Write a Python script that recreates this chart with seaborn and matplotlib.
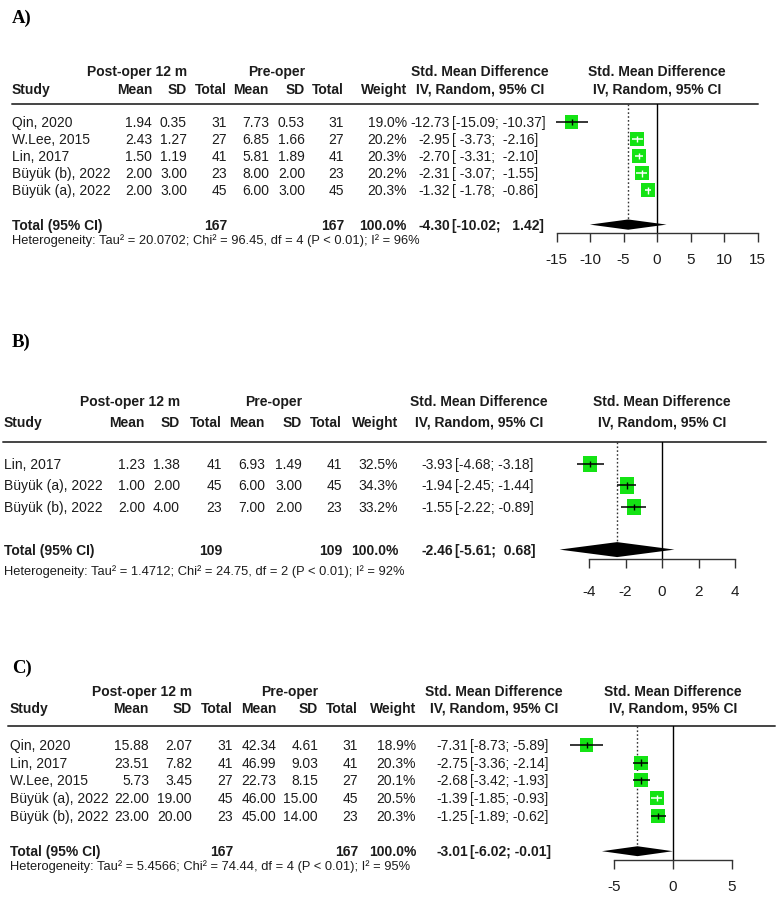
import numpy as np
import pandas as pd
import matplotlib
matplotlib.use("Agg")
import matplotlib.pyplot as plt
import seaborn as sns

sns.set_theme(style="white")
plt.rcParams['font.family'] = ['Liberation Sans', 'DejaVu Sans']
plt.rcParams['axes.unicode_minus'] = False

# ---------------- data ----------------
# Panel A
studies_a = ["Qin, 2020", "W.Lee, 2015", "Lin, 2017", "Büyük (b), 2022", "Büyük (a), 2022"]
post_mean_a = [1.94, 2.43, 1.50, 2.00, 2.00]
post_sd_a = [0.35, 1.27, 1.19, 3.00, 3.00]
post_n_a = [31, 27, 41, 23, 45]
pre_mean_a = [7.73, 6.85, 5.81, 8.00, 6.00]
pre_sd_a = [0.53, 1.66, 1.89, 2.00, 3.00]
pre_n_a = [31, 27, 41, 23, 45]
weight_a = [19.0, 20.2, 20.3, 20.2, 20.3]
smd_a = [-12.73, -2.95, -2.70, -2.31, -1.32]
lo_a = [-15.09, -3.73, -3.31, -3.07, -1.78]
hi_a = [-10.37, -2.16, -2.10, -1.55, -0.86]
pooled_a = [-4.30, -10.02, 1.42]
total_weight_a = 100.0
het_a = [20.0702, 96.45, 4, "P < 0.01", 96]
ticks_a = [-15, -10, -5, 0, 5, 10, 15]

# Panel B
studies_b = ["Lin, 2017", "Büyük (a), 2022", "Büyük (b), 2022"]
post_mean_b = [1.23, 1.00, 2.00]
post_sd_b = [1.38, 2.00, 4.00]
post_n_b = [41, 45, 23]
pre_mean_b = [6.93, 6.00, 7.00]
pre_sd_b = [1.49, 3.00, 2.00]
pre_n_b = [41, 45, 23]
weight_b = [32.5, 34.3, 33.2]
smd_b = [-3.93, -1.94, -1.55]
lo_b = [-4.68, -2.45, -2.22]
hi_b = [-3.18, -1.44, -0.89]
pooled_b = [-2.46, -5.61, 0.68]
total_weight_b = 100.0
het_b = [1.4712, 24.75, 2, "P < 0.01", 92]
ticks_b = [-4, -2, 0, 2, 4]

# Panel C
studies_c = ["Qin, 2020", "Lin, 2017", "W.Lee, 2015", "Büyük (a), 2022", "Büyük (b), 2022"]
post_mean_c = [15.88, 23.51, 5.73, 22.00, 23.00]
post_sd_c = [2.07, 7.82, 3.45, 19.00, 20.00]
post_n_c = [31, 41, 27, 45, 23]
pre_mean_c = [42.34, 46.99, 22.73, 46.00, 45.00]
pre_sd_c = [4.61, 9.03, 8.15, 15.00, 14.00]
pre_n_c = [31, 41, 27, 45, 23]
weight_c = [18.9, 20.3, 20.1, 20.5, 20.3]
smd_c = [-7.31, -2.75, -2.68, -1.39, -1.25]
lo_c = [-8.73, -3.36, -3.42, -1.85, -1.89]
hi_c = [-5.89, -2.14, -1.93, -0.93, -0.62]
pooled_c = [-3.01, -6.02, -0.01]
total_weight_c = 100.0
het_c = [5.4566, 74.44, 4, "P < 0.01", 95]
ticks_c = [-5, 0, 5]

group1_label = "Post-oper 12 m"
group2_label = "Pre-oper"
panel_labels = ["A)", "B)", "C)"]

# ---------------- layout (pixels) ----------------
W, H = 781, 904
TXT = "#1c1c1c"
GREEN = "#14e314"
FS = 10

layouts = [
    dict(label_y=18, h1=72, h2=90, line_y=105, line_x=(12, 758), row0=123, sp=17.1,
         het_y=241, axis_y=234, ticklab_y=260, study=12, m1=152, s1=187, n1=227,
         m2=269, s2=305, n2=344, w=407, est=450, ci=452, smd_hdr=480,
         zero_px=657, ppu=6.7, ax_px=(540, 776), dia_h=0.30, side=14, aspect=1.0),
    dict(label_y=342, h1=402, h2=423, line_y=443, line_x=(3, 766), row0=465, sp=21.4,
         het_y=572, axis_y=560, ticklab_y=593, study=4, m1=145, s1=180, n1=222,
         m2=265, s2=302, n2=342, w=398, est=453, ci=455, smd_hdr=479,
         zero_px=662, ppu=18.25, ax_px=(520, 776), dia_h=0.35, side=14, aspect=1.2),
    dict(label_y=668, h1=692, h2=709, line_y=727, line_x=(8, 775), row0=746, sp=17.7,
         het_y=867, axis_y=861, ticklab_y=888, study=10, m1=149, s1=192, n1=233,
         m2=276, s2=318, n2=358, w=416, est=468, ci=470, smd_hdr=494,
         zero_px=673, ppu=11.8, ax_px=(560, 778), dia_h=0.28, side=14, aspect=1.0),
]

panels = [
    (studies_a, post_mean_a, post_sd_a, post_n_a, pre_mean_a, pre_sd_a, pre_n_a,
     weight_a, smd_a, lo_a, hi_a, pooled_a, total_weight_a, het_a, ticks_a),
    (studies_b, post_mean_b, post_sd_b, post_n_b, pre_mean_b, pre_sd_b, pre_n_b,
     weight_b, smd_b, lo_b, hi_b, pooled_b, total_weight_b, het_b, ticks_b),
    (studies_c, post_mean_c, post_sd_c, post_n_c, pre_mean_c, pre_sd_c, pre_n_c,
     weight_c, smd_c, lo_c, hi_c, pooled_c, total_weight_c, het_c, ticks_c),
]

fig = plt.figure(figsize=(W / 100, H / 100), dpi=100)
fig.patch.set_facecolor("white")
tab = fig.add_axes([0, 0, 1, 1])
tab.set_xlim(0, W)
tab.set_ylim(H, 0)
tab.axis("off")


def t(x, y, s, ha="right", bold=False, size=FS, **kw):
    tab.text(x, y, s, ha=ha, va="center", fontsize=size, color=TXT,
             fontweight="bold" if bold else "normal", **kw)


def ci_strings(lo, hi):
    sl = [f"{v:.2f}" for v in lo]
    sh = [f"{v:.2f}" for v in hi]
    wl = max(len(s) for s in sl)
    wh = max(len(s) for s in sh)
    return [f"[{a:>{wl}}; {b:>{wh}}]" for a, b in zip(sl, sh)]


for pi, (L, P) in enumerate(zip(layouts, panels)):
    (studies, m1, s1, n1, m2, s2, n2, wts, smd, lo, hi, pooled, tw, het, ticks) = P
    n = len(studies)

    # panel label
    tab.text(12, L["label_y"], panel_labels[pi], ha="left", va="center",
             fontsize=13.5, fontweight="bold", color="black",
             family=["Liberation Serif", "DejaVu Serif"])

    # headers
    t(L["s1"], L["h1"], group1_label, bold=True)
    t(L["s2"], L["h1"], group2_label, bold=True)
    t(L["smd_hdr"], L["h1"], "Std. Mean Difference", ha="center", bold=True)
    t(L["zero_px"], L["h1"], "Std. Mean Difference", ha="center", bold=True)
    t(L["study"], L["h2"], "Study", ha="left", bold=True)
    for key, lab in [("m1", "Mean"), ("s1", "SD"), ("n1", "Total"),
                     ("m2", "Mean"), ("s2", "SD"), ("n2", "Total"), ("w", "Weight")]:
        t(L[key], L["h2"], lab, bold=True)
    t(L["smd_hdr"], L["h2"], "IV, Random, 95% CI", ha="center", bold=True)
    t(L["zero_px"], L["h2"], "IV, Random, 95% CI", ha="center", bold=True)
    tab.plot(L["line_x"], [L["line_y"], L["line_y"]], color="#444444", lw=1.4)

    cis = ci_strings(lo + [pooled[1]], hi + [pooled[2]])
    rows_px = [L["row0"] + i * L["sp"] for i in range(n)]
    for i in range(n):
        y = rows_px[i]
        t(L["study"], y, studies[i], ha="left")
        t(L["m1"], y, f"{m1[i]:.2f}")
        t(L["s1"], y, f"{s1[i]:.2f}")
        t(L["n1"], y, f"{n1[i]}")
        t(L["m2"], y, f"{m2[i]:.2f}")
        t(L["s2"], y, f"{s2[i]:.2f}")
        t(L["n2"], y, f"{n2[i]}")
        t(L["w"], y, f"{wts[i]:.1f}%")
        t(L["est"], y, f"{smd[i]:.2f}")
        t(L["ci"], y, cis[i], ha="left")

    ytot = L["row0"] + (n + 1) * L["sp"]
    t(L["study"], ytot, "Total (95% CI)", ha="left", bold=True)
    t(L["n1"], ytot, f"{sum(n1)}", bold=True)
    t(L["n2"], ytot, f"{sum(n2)}", bold=True)
    t(L["w"], ytot, f"{tw:.1f}%", bold=True)
    t(L["est"], ytot, f"{pooled[0]:.2f}", bold=True)
    t(L["ci"], ytot, cis[-1], ha="left", bold=True)

    tau2, chi2, dfv, plab, i2 = het
    t(L["study"], L["het_y"],
      f"Heterogeneity: Tau² = {tau2:.4f}; Chi² = {chi2:.2f}, df = {dfv} ({plab}); I² = {i2}%",
      ha="left", size=9.3)

    # ---------- forest axes ----------
    x0, x1 = L["ax_px"]
    top_px, bot_px = L["line_y"], L["axis_y"]
    ax = fig.add_axes([x0 / W, 1 - bot_px / H, (x1 - x0) / W, (bot_px - top_px) / H])
    ax.set_facecolor("none")
    ax.set_xlim((x0 - L["zero_px"]) / L["ppu"], (x1 - L["zero_px"]) / L["ppu"])
    r_top = (top_px - L["row0"]) / L["sp"]
    r_bot = (bot_px - L["row0"]) / L["sp"]
    ax.set_ylim(r_bot, r_top)

    df = pd.DataFrame({"smd": smd, "lo": lo, "hi": hi, "weight": wts,
                       "row": np.arange(n)})
    wmax = max(wts)
    side_pt = L["side"] * 0.72
    a = L["aspect"]
    marker = [(-1, -a), (1, -a), (1, a), (-1, a), (-1, -a)]
    smax = (side_pt * max(1, a)) ** 2
    sns.scatterplot(data=df, x="smd", y="row", size="weight", sizes=(0, smax),
                    size_norm=(0, wmax), marker=marker, color=GREEN,
                    edgecolor="none", linewidth=0, legend=False, ax=ax,
                    zorder=3, clip_on=False)

    side_px = L["side"] * np.sqrt(np.array(wts) / wmax)
    line_cols = ["white" if (h - l) * L["ppu"] < sp else "black"
                 for l, h, sp in zip(lo, hi, side_px)]
    ax.hlines(df["row"], df["lo"], df["hi"], colors=line_cols, lw=1.1, zorder=4,
              clip_on=False)
    ax.scatter(df["smd"], df["row"], marker="|", s=22, c=line_cols, linewidths=1.0,
               zorder=5, clip_on=False)

    # pooled diamond
    est, plo, phi = pooled
    yd = n + 1
    h = L["dia_h"]
    ax.fill([plo, est, phi, est], [yd, yd - h, yd, yd + h], color="black",
            zorder=4, clip_on=False, lw=0)

    # reference lines
    ax.axvline(0, color="black", lw=1.0, zorder=2)
    ax.vlines(est, r_top, yd, colors="#333333", linestyles=(0, (1.2, 1.6)), lw=1.0,
              zorder=2)

    # axis styling
    for sname in ["top", "left", "right"]:
        ax.spines[sname].set_visible(False)
    ax.spines["bottom"].set_visible(True)
    ax.spines["bottom"].set_color("#333333")
    ax.spines["bottom"].set_linewidth(1.0)
    ax.spines["bottom"].set_bounds(ticks[0], ticks[-1])
    ax.set_yticks([])
    ax.set_xticks(ticks)
    ax.set_xticklabels([f"{v:g}" for v in ticks])
    pad_px = L["ticklab_y"] - L["axis_y"] - 9 - 7.5
    ax.tick_params(axis="x", bottom=True, direction="out", length=9 * 0.72,
                   width=1.0, color="#333333", labelcolor=TXT, labelsize=11,
                   pad=pad_px * 0.72)
    ax.set_xlabel("")
    ax.set_ylabel("")
    ax.grid(False)

fig.savefig("out.png", dpi=100, facecolor="white")
